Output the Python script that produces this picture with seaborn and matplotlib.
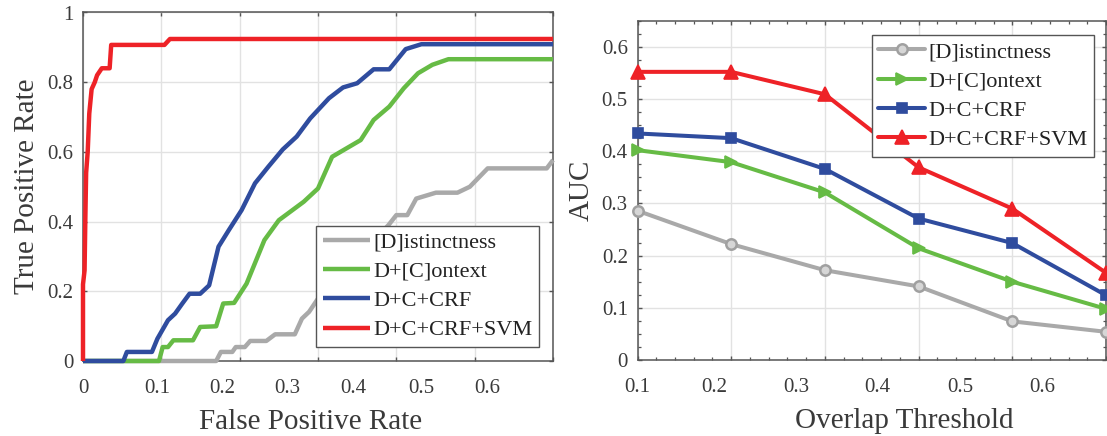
import numpy as np
import pandas as pd
import matplotlib
matplotlib.use("Agg")
import matplotlib.pyplot as plt
from matplotlib.ticker import MultipleLocator
import seaborn as sns

# ---- series names and colours ----
methods = ["[D]istinctness", "D+[C]ontext", "D+C+CRF", "D+C+CRF+SVM"]
colors = ["#a9a9a9", "#66bb45", "#2f4c9e", "#ee2227"]

# ---- ROC curves (false positive rate, true positive rate) ----
d_fpr = [0, 0.170, 0.176, 0.1906, 0.195, 0.2066, 0.2134, 0.234, 0.2453, 0.2704,
         0.2795, 0.2886, 0.30, 0.39, 0.40, 0.414, 0.4254, 0.4505, 0.478, 0.4938,
         0.5166, 0.592, 0.6]
d_tpr = [0, 0, 0.026, 0.026, 0.040, 0.040, 0.0575, 0.0575, 0.0766, 0.0766,
         0.1216, 0.141, 0.179, 0.39, 0.4186, 0.4186, 0.466, 0.483, 0.483, 0.5,
         0.5527, 0.5527, 0.5766]

dc_fpr = [0, 0.097, 0.1017, 0.1085, 0.1154, 0.1404, 0.1496, 0.170, 0.179, 0.1929,
          0.2088, 0.2316, 0.25, 0.2818, 0.30, 0.318, 0.3545, 0.371, 0.391, 0.4095,
          0.4277, 0.446, 0.4665, 0.6]
dc_tpr = [0, 0, 0.040, 0.040, 0.0594, 0.0594, 0.0977, 0.0996, 0.165, 0.1667,
          0.222, 0.347, 0.404, 0.457, 0.495, 0.586, 0.634, 0.6916, 0.73, 0.7826,
          0.8257, 0.85, 0.866, 0.866]

dcc_fpr = [0, 0.0515, 0.056, 0.088, 0.095, 0.1085, 0.1176, 0.1268, 0.136, 0.1496,
           0.161, 0.173, 0.186, 0.2025, 0.2196, 0.2366, 0.255, 0.2728, 0.29, 0.314,
           0.332, 0.350, 0.371, 0.391, 0.412, 0.432, 0.6]
dcc_tpr = [0, 0, 0.026, 0.026, 0.064, 0.117, 0.136, 0.165, 0.193, 0.193,
           0.217, 0.328, 0.375, 0.433, 0.51, 0.5575, 0.607, 0.644, 0.696, 0.754,
           0.785, 0.797, 0.837, 0.837, 0.895, 0.909, 0.909]

svm_fpr = [0, 0, 0.002, 0.003, 0.004, 0.006, 0.008, 0.011, 0.015, 0.018, 0.021,
           0.024, 0.034, 0.036, 0.104, 0.111, 0.6]
svm_tpr = [0, 0.22, 0.26, 0.41, 0.54, 0.60, 0.71, 0.78, 0.80, 0.82, 0.83,
           0.84, 0.84, 0.907, 0.907, 0.924, 0.924]

# ---- AUC against overlap threshold ----
thresholds = [0.1, 0.2, 0.3, 0.4, 0.5, 0.6]
auc_d = [0.286, 0.222, 0.172, 0.141, 0.074, 0.054]
auc_dc = [0.402, 0.379, 0.321, 0.214, 0.150, 0.098]
auc_dcc = [0.434, 0.425, 0.366, 0.271, 0.224, 0.124]
auc_svm = [0.552, 0.552, 0.509, 0.369, 0.290, 0.167]

# ---- tick labels ----
roc_xticks = [0, 0.1, 0.2, 0.3, 0.4, 0.5, 0.6]
roc_xlabels = ["0", "0.1", "0.2", "0.3", "0.4", "0.5", "0.6"]
roc_xlabel_pos = [0.0, 0.0945, 0.1775, 0.2604, 0.3447, 0.4315, 0.5157]
roc_yticks = [0, 0.2, 0.4, 0.6, 0.8, 1.0]
roc_ylabels = ["0", "0.2", "0.4", "0.6", "0.8", "1"]
auc_xlabels = ["0.1", "0.2", "0.3", "0.4", "0.5", "0.6"]
auc_xlabel_pos = [0.1, 0.1814, 0.2697, 0.3559, 0.4441, 0.5324]
auc_yticks = [0, 0.1, 0.2, 0.3, 0.4, 0.5, 0.6]
auc_ylabels = ["0", "0.1", "0.2", "0.3", "0.4", "0.5", "0.6"]

roc = pd.concat([
    pd.DataFrame({"fpr": f, "tpr": t, "method": m})
    for f, t, m in zip([d_fpr, dc_fpr, dcc_fpr, svm_fpr],
                       [d_tpr, dc_tpr, dcc_tpr, svm_tpr], methods)
], ignore_index=True)

auc = pd.concat([
    pd.DataFrame({"threshold": thresholds, "auc": a, "method": m})
    for a, m in zip([auc_d, auc_dc, auc_dcc, auc_svm], methods)
], ignore_index=True)

sns.set_theme(style="ticks")
plt.rcParams["font.family"] = ["Liberation Serif", "DejaVu Serif"]

text_color = "#3a3a3a"
spine_color = "#555555"
grid_color = "#e2e2e2"
tick_size = 15
label_size = 21
legend_size = 16
W, H = 1107, 436

fig = plt.figure(figsize=(W / 100, H / 100), dpi=100)
ax1 = fig.add_axes([83 / W, 75 / H, 470 / W, 348.5 / H])
ax2 = fig.add_axes([637.5 / W, 76 / H, 468.5 / W, 339.3 / H])


def style_legend(leg):
    leg.get_frame().set_linewidth(1.0)
    for t in leg.get_texts():
        t.set_color("#222222")


legend_kw = dict(fontsize=legend_size, frameon=True, fancybox=False,
                 edgecolor="#555555", framealpha=1, borderpad=0.3,
                 labelspacing=0.39, handlelength=2.1, handletextpad=0.15,
                 borderaxespad=0)

# ---------------- left: ROC curves ----------------
sns.lineplot(data=roc, x="fpr", y="tpr", hue="method", hue_order=methods,
             palette=colors, sort=False, estimator=None, lw=3.2,
             legend=False, ax=ax1)
for ln in ax1.lines:
    ln.set_clip_on(False)
    ln.set_solid_capstyle("butt")
    ln.set_zorder(3)

ax1.set_xlim(0, 0.6)
ax1.set_ylim(0, 1)
ax1.set_xticks(roc_xticks)
ax1.set_yticks(roc_yticks, roc_ylabels)
ax1.tick_params(direction="in", length=3, width=1, color=spine_color,
                top=True, right=True, labelsize=tick_size, labelcolor=text_color,
                pad=7)
ax1.tick_params(axis="x", labelbottom=False)
ax1.grid(True, color=grid_color, lw=1)
ax1.set_axisbelow(True)
for sp in ax1.spines.values():
    sp.set_color(spine_color)
    sp.set_linewidth(1.1)
ax1.set_xlabel("")
ax1.set_ylabel("True Positive Rate", fontsize=label_size, color=text_color,
               labelpad=5)

sec1 = ax1.secondary_xaxis("bottom")
sec1.set_xticks(roc_xlabel_pos, roc_xlabels)
sec1.tick_params(length=0, labelsize=tick_size, labelcolor=text_color, pad=13)
sec1.spines["bottom"].set_visible(False)
sec1.set_xlabel("False Positive Rate", fontsize=label_size, color=text_color,
                labelpad=8)
sec1.xaxis.label.set_x(0.484)

leg1 = ax1.legend(handles=ax1.lines[:4], labels=methods, loc="lower right",
                  bbox_to_anchor=(0.970, 0.040), **legend_kw)
style_legend(leg1)

# ---------------- right: AUC vs overlap threshold ----------------
markers = {"[D]istinctness": "o", "D+[C]ontext": ">", "D+C+CRF": "s",
           "D+C+CRF+SVM": "^"}
sns.lineplot(data=auc, x="threshold", y="auc", hue="method", hue_order=methods,
             palette=colors, style="method", style_order=methods,
             markers=markers, dashes=False, lw=2.9, legend=False, ax=ax2)
msizes = [7.5, 9, 7.5, 9.5]
for ln, ms, c in zip(ax2.lines, msizes, colors):
    ln.set_clip_on(False)
    ln.set_markersize(ms)
    ln.set_markeredgewidth(1.2)
    ln.set_markeredgecolor(c)
    ln.set_markerfacecolor(c)
    ln.set_zorder(3)
ax2.lines[0].set_markerfacecolor("#d6d6d6")
ax2.lines[0].set_markeredgecolor("#a0a0a0")
ax2.lines[0].set_markeredgewidth(1.8)

ax2.set_xlim(0.1, 0.6)
ax2.set_ylim(0, 0.65)
ax2.set_xticks(thresholds)
ax2.xaxis.set_minor_locator(MultipleLocator(0.02))
ax2.set_yticks(auc_yticks, auc_ylabels)
ax2.yaxis.set_minor_locator(MultipleLocator(0.025))
ax2.tick_params(which="major", direction="in", length=3, width=1,
                color=spine_color, top=True, right=True, labelsize=tick_size,
                labelcolor=text_color, pad=7)
ax2.tick_params(which="minor", direction="in", length=2, width=0.9,
                color=spine_color, top=True, right=True)
ax2.tick_params(axis="x", labelbottom=False)
ax2.grid(True, which="major", color=grid_color, lw=1)
ax2.set_axisbelow(True)
for sp in ax2.spines.values():
    sp.set_color(spine_color)
    sp.set_linewidth(1.1)
ax2.set_xlabel("")
ax2.set_ylabel("AUC", fontsize=label_size, color=text_color, labelpad=5)

sec2 = ax2.secondary_xaxis("bottom")
sec2.set_xticks(auc_xlabel_pos, auc_xlabels)
sec2.tick_params(length=0, labelsize=tick_size, labelcolor=text_color, pad=13)
sec2.spines["bottom"].set_visible(False)
sec2.set_xlabel("Overlap Threshold", fontsize=label_size, color=text_color,
                labelpad=8)
sec2.xaxis.label.set_x(0.57)

leg2 = ax2.legend(handles=ax2.lines[:4], labels=methods, loc="upper right",
                  bbox_to_anchor=(0.975, 0.958), **legend_kw)
style_legend(leg2)

fig.savefig("out.png", dpi=100)
